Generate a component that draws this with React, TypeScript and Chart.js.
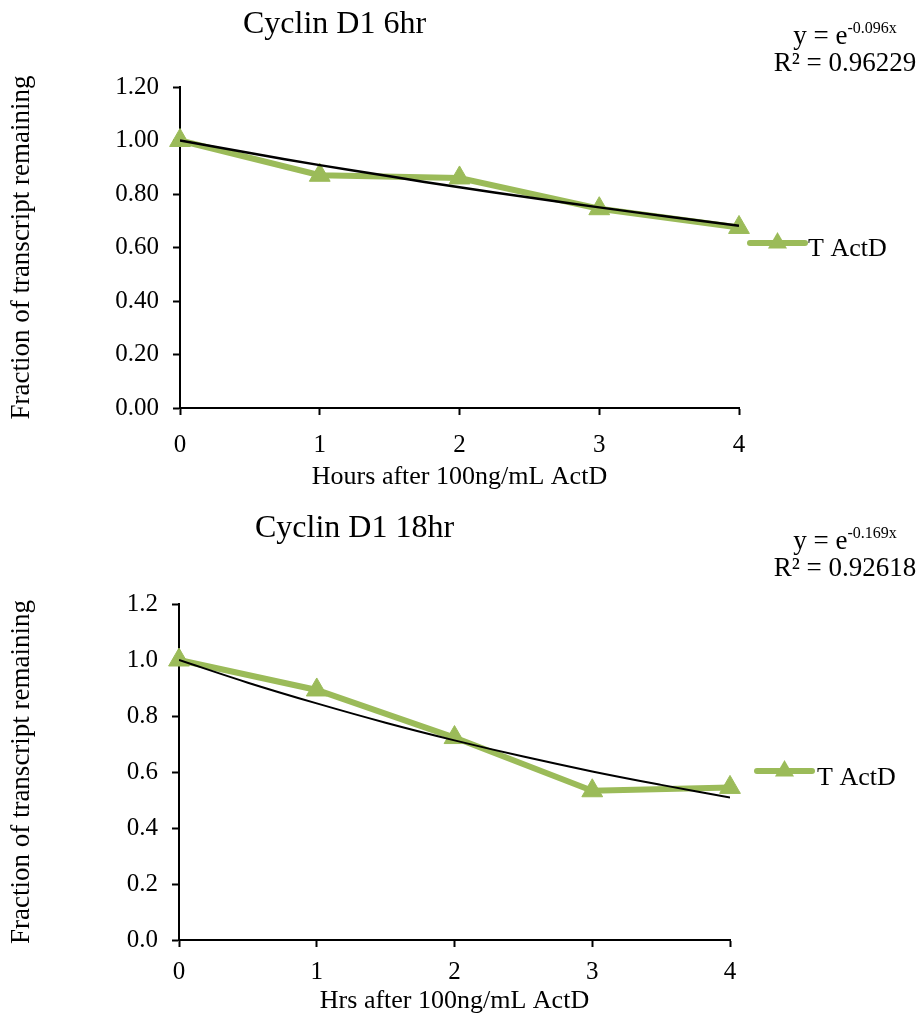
import React, { useEffect, useRef } from "react";
import { Chart, registerables } from "chart.js";

Chart.register(...registerables);

// ---------- data ----------
const hours = [0, 1, 2, 3, 4];
const series6hr = [1.0, 0.87, 0.86, 0.745, 0.675];
const series18hr = [1.0, 0.893, 0.723, 0.533, 0.545];
const trendHours = [0, 0.5, 1, 1.5, 2, 2.5, 3, 3.5, 4];
const trend6hr = [1.0, 0.953, 0.908, 0.866, 0.825, 0.787, 0.75, 0.715, 0.681];
const trend18hr = [1.0, 0.919, 0.845, 0.776, 0.713, 0.655, 0.602, 0.554, 0.509];
const seriesLabel = "T ActD";
const chartTitles = ["Cyclin D1 6hr", "Cyclin D1 18hr"];
const xTitles = ["Hours after 100ng/mL ActD", "Hrs after 100ng/mL ActD"];
const yTitle = "Fraction of transcript remaining";
const eqExponents = ["-0.096x", "-0.169x"];
const rSquared = ["0.96229", "0.92618"];
const yDecimals = [2, 1];

const FONT = '"Liberation Serif", "Times New Roman", serif';
const GREEN = "#9BBB59";

type Layout = {
  height: number;
  top: number;
  left: number;
  right: number;
  bottom: number;
  xScaleH: number;
  tickPad: number;
  trendWidth: number;
  titleX: number;
  titleBase: number;
  eqBase: number;
  legLineX1: number;
  legLineX2: number;
  legY: number;
  legTextX: number;
  legTextBase: number;
};

const layouts: Layout[] = [
  {
    height: 505, top: 87, left: 180, right: 739, bottom: 408, xScaleH: 85, tickPad: 15, trendWidth: 2.5,
    titleX: 243, titleBase: 33, eqBase: 44,
    legLineX1: 750, legLineX2: 805, legY: 243, legTextX: 808, legTextBase: 256,
  },
  {
    height: 512, top: 99, left: 179, right: 730, bottom: 435, xScaleH: 77, tickPad: 10, trendWidth: 2,
    titleX: 255, titleBase: 32, eqBase: 44,
    legLineX1: 757, legLineX2: 812, legY: 266, legTextX: 817, legTextBase: 280,
  },
];

function drawTriangle(ctx: CanvasRenderingContext2D, cx: number, cy: number, r: number) {
  const xo = r * Math.sin(Math.PI / 3);
  ctx.beginPath();
  ctx.moveTo(cx, cy - r);
  ctx.lineTo(cx + xo, cy + r / 2);
  ctx.lineTo(cx - xo, cy + r / 2);
  ctx.closePath();
  ctx.fill();
}

function DecayChart({ idx }: { idx: number }) {
  const ref = useRef<HTMLCanvasElement | null>(null);
  const L = layouts[idx];
  useEffect(() => {
    if (!ref.current) return;
    const values = idx === 0 ? series6hr : series18hr;
    const trend = idx === 0 ? trend6hr : trend18hr;
    const dec = yDecimals[idx];

    const textPlugin = {
      id: "extraText" + idx,
      afterDraw(chart: any) {
        const ctx: CanvasRenderingContext2D = chart.ctx;
        ctx.save();
        ctx.fillStyle = "#000";
        ctx.textBaseline = "alphabetic";
        // title
        ctx.font = `32px ${FONT}`;
        ctx.textAlign = "left";
        ctx.fillText(chartTitles[idx], L.titleX, L.titleBase);
        // equation
        const cx = 845;
        ctx.font = `27px ${FONT}`;
        const main = "y = e";
        const w1 = ctx.measureText(main).width;
        ctx.font = `16px ${FONT}`;
        const w2 = ctx.measureText(eqExponents[idx]).width;
        const sx = cx - (w1 + w2) / 2;
        ctx.font = `27px ${FONT}`;
        ctx.fillText(main, sx, L.eqBase);
        ctx.font = `16px ${FONT}`;
        ctx.fillText(eqExponents[idx], sx + w1, L.eqBase - 11);
        ctx.font = `27px ${FONT}`;
        ctx.textAlign = "center";
        ctx.fillText("R\u00B2 = " + rSquared[idx], cx, L.eqBase + 27);
        // legend
        ctx.strokeStyle = GREEN;
        ctx.lineWidth = 6;
        ctx.lineCap = "round";
        ctx.beginPath();
        ctx.moveTo(L.legLineX1, L.legY);
        ctx.lineTo(L.legLineX2, L.legY);
        ctx.stroke();
        ctx.fillStyle = GREEN;
        drawTriangle(ctx, (L.legLineX1 + L.legLineX2) / 2, L.legY, 11);
        ctx.fillStyle = "#000";
        ctx.textAlign = "left";
        ctx.font = `26px ${FONT}`;
        ctx.fillText(seriesLabel, L.legTextX, L.legTextBase);
        ctx.restore();
      },
    };

    const chart = new Chart(ref.current, {
      type: "line",
      data: {
        datasets: [
          {
            label: "trend",
            data: trendHours.map((h, i) => ({ x: h, y: trend[i] })),
            borderColor: "#000",
            borderWidth: L.trendWidth,
            pointRadius: 0,
            tension: 0.4,
            order: 0,
          },
          {
            label: seriesLabel,
            data: hours.map((h, i) => ({ x: h, y: values[i] })),
            borderColor: GREEN,
            backgroundColor: GREEN,
            borderWidth: 6,
            pointStyle: "triangle",
            pointRadius: 12,
            pointBackgroundColor: GREEN,
            pointBorderColor: GREEN,
            pointBorderWidth: 1,
            tension: 0,
            clip: false as any,
            order: 1,
          },
        ],
      },
      options: {
        responsive: false,
        animation: false,
        layout: {
          padding: { top: L.top, left: 0, right: 918 - L.right, bottom: L.height - L.bottom - L.xScaleH },
        },
        plugins: { legend: { display: false }, tooltip: { enabled: false }, title: { display: false } },
        scales: {
          x: {
            type: "linear",
            min: 0,
            max: 4,
            ticks: {
              stepSize: 1,
              color: "#000",
              font: { family: FONT, size: 25 },
              padding: L.tickPad,
              maxRotation: 0,
              callback: (v: any) => String(v),
            },
            grid: { display: true, drawOnChartArea: false, drawTicks: true, tickLength: 7, tickColor: "#000", tickWidth: 2 },
            border: { display: true, color: "#000", width: 2 },
            title: { display: true, text: xTitles[idx], color: "#000", font: { family: FONT, size: 26 }, padding: { top: 0, bottom: 0 } },
            afterFit: (s: any) => { s.height = L.xScaleH; },
          },
          y: {
            type: "linear",
            min: 0,
            max: 1.2,
            ticks: {
              stepSize: 0.2,
              color: "#000",
              font: { family: FONT, size: 25 },
              padding: 14,
              callback: (v: any) => Number(v).toFixed(dec),
            },
            grid: { display: true, drawOnChartArea: false, drawTicks: true, tickLength: 7, tickColor: "#000", tickWidth: 2 },
            border: { display: true, color: "#000", width: 2 },
            title: { display: true, text: yTitle, color: "#000", font: { family: FONT, size: 27 }, padding: { top: 6, bottom: 0 } },
            afterFit: (s: any) => { s.width = L.left; },
          },
        },
      },
      plugins: [textPlugin],
    } as any);
    return () => chart.destroy();
  }, [idx]);
  return (
    <canvas ref={ref} width={918} height={L.height} style={{ display: "block", width: 918, height: L.height }} />
  );
}

export default function App() {
  return (
    <div style={{ position: "absolute", left: 0, top: 0, width: 918, height: 1017, background: "#fff" }}>
      <div style={{ position: "absolute", left: 0, top: 0 }}>
        <DecayChart idx={0} />
      </div>
      <div style={{ position: "absolute", left: 0, top: 505 }}>
        <DecayChart idx={1} />
      </div>
    </div>
  );
}
